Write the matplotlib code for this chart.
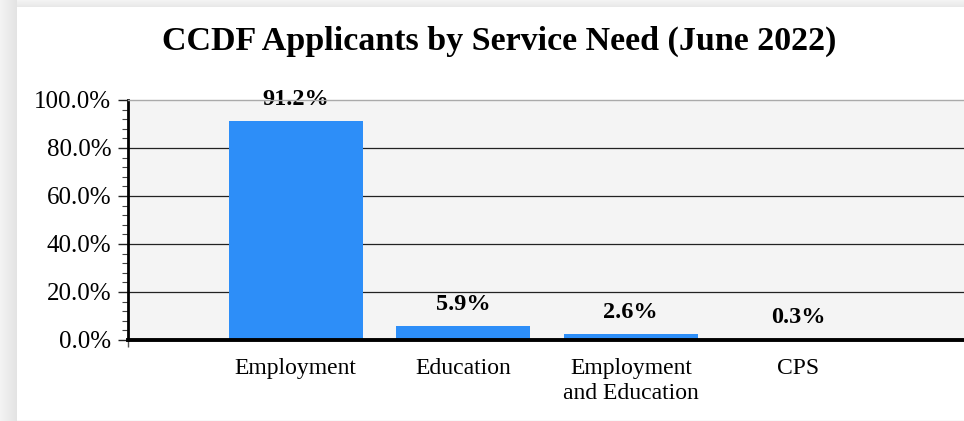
import numpy as np
import matplotlib
matplotlib.use("Agg")
import matplotlib.pyplot as plt
from matplotlib.ticker import MultipleLocator, FixedLocator

# Data
categories = ["Employment", "Education", "Employment\nand Education", "CPS"]
values = [91.2, 5.9, 2.6, 0.3]
value_labels = ["91.2%", "5.9%", "2.6%", "0.3%"]
yticks = [0, 20, 40, 60, 80, 100]

bar_color = "#2d8ef8"
serif = ["Liberation Serif", "DejaVu Serif"]

fig = plt.figure(figsize=(9.64, 4.21), dpi=100, facecolor="white")

# Panel shadow strips (left and top)
strip = fig.add_axes([0, 0, 17 / 964, 1])
strip.imshow(np.linspace(0.955, 0.89, 50)[None, :], cmap="gray", vmin=0, vmax=1,
             aspect="auto", extent=[0, 1, 0, 1])
strip.axis("off")
top = fig.add_axes([17 / 964, 1 - 7 / 421, 1 - 17 / 964, 7 / 421])
top.imshow(np.linspace(0.955, 0.91, 20)[:, None], cmap="gray", vmin=0, vmax=1,
           aspect="auto", extent=[0, 1, 0, 1])
top.axis("off")

ax = fig.add_axes([128 / 964, 81 / 421, 838 / 964, 240 / 421])
ax.set_facecolor("#f4f4f4")

x = np.arange(1, len(categories) + 1)
ax.bar(x, values, width=0.8, color=bar_color, zorder=3)

for xi, v, lab in zip(x, values, value_labels):
    ax.annotate(lab, (xi, v), xytext=(0, 8), textcoords="offset points",
                ha="center", va="bottom", fontsize=17.5, fontweight="bold",
                family=serif, color="black", zorder=4)

ax.set_xlim(0, 5)
ax.set_ylim(0, 100)

# grid lines
for yv in yticks[1:-1]:
    ax.axhline(yv, color="#222222", linewidth=0.9, zorder=1)

ax.set_yticks(yticks)
ax.set_yticklabels([f"{t:.1f}%" for t in yticks], fontsize=18, family=serif)
ax.yaxis.set_minor_locator(MultipleLocator(4))
ax.tick_params(axis="y", which="major", length=7, width=1, color="#222222", pad=5)
ax.tick_params(axis="y", which="minor", length=4, width=0.8, color="#444444")

ax.set_xticks(x)
ax.set_xticklabels(categories, fontsize=17, family=serif, linespacing=1.25)
ax.tick_params(axis="x", which="major", length=0, pad=13)
ax.xaxis.set_minor_locator(FixedLocator([0]))
ax.tick_params(axis="x", which="minor", length=5, width=1, color="#555555")

ax.spines["left"].set_linewidth(2)
ax.spines["left"].set_color("black")
ax.spines["bottom"].set_linewidth(2.8)
ax.spines["bottom"].set_color("black")
ax.spines["top"].set_color("#aaaaaa")
ax.spines["top"].set_linewidth(1)
ax.spines["right"].set_visible(False)
for s in ax.spines.values():
    s.set_zorder(5)

fig.text(499 / 964, 1 - 41 / 421, "CCDF Applicants by Service Need (June 2022)",
         ha="center", va="center", fontsize=24.5, fontweight="bold", family=serif)

# bottom panel edge
fig.add_artist(plt.Line2D([17 / 964, 1], [0.5 / 421, 0.5 / 421], color="#e0e0e0", linewidth=1))

fig.savefig("out.png", dpi=100, facecolor="white")
